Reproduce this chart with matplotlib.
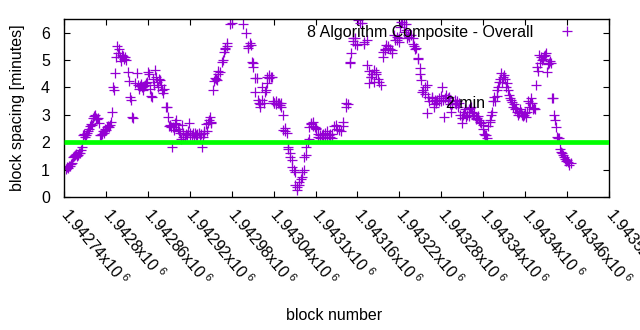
import matplotlib
matplotlib.use("Agg")
import matplotlib.pyplot as plt
import numpy as np

plt.rcParams['font.family'] = ['Liberation Sans', 'DejaVu Sans']
plt.rcParams['mathtext.fontset'] = 'custom'
plt.rcParams['mathtext.rm'] = 'Liberation Sans'
plt.rcParams['mathtext.it'] = 'Liberation Sans'

first_block = 1942740
block_offset = [
    3, 4, 6, 7, 9, 10, 11, 13, 14, 16, 17, 19, 20, 21, 23, 24, 26, 27, 29, 30,
    31, 33, 34, 36, 37, 39, 40, 41, 43, 44, 46, 47, 49, 50, 51, 53, 54, 56, 57, 59,
    60, 61, 63, 64, 66, 67, 69, 70, 71, 73, 74, 76, 77, 79, 80, 81, 83, 84, 86, 87,
    89, 91, 93, 94, 96, 97, 99, 101, 104, 106, 107, 109, 110, 111, 113, 114, 116, 117, 119, 120,
    121, 123, 124, 126, 127, 129, 130, 131, 133, 134, 136, 137, 139, 140, 141, 143, 146, 147, 149, 150,
    151, 153, 154, 156, 157, 159, 160, 161, 163, 164, 166, 167, 169, 170, 171, 173, 174, 176, 177, 179,
    180, 181, 183, 184, 186, 187, 189, 190, 191, 193, 194, 196, 197, 199, 200, 201, 203, 204, 206, 207,
    209, 210, 211, 213, 214, 216, 217, 219, 220, 221, 223, 226, 227, 229, 230, 231, 233, 234, 237, 241,
    256, 261, 263, 264, 266, 267, 269, 270, 271, 273, 274, 276, 277, 279, 280, 281, 283, 284, 286, 287,
    289, 290, 291, 293, 294, 296, 297, 299, 300, 301, 303, 304, 306, 307, 309, 310, 311, 313, 314, 316,
    317, 319, 320, 321, 323, 324, 326, 327, 329, 330, 331, 333, 334, 336, 337, 339, 340, 341, 343, 344,
    346, 347, 349, 350, 351, 353, 354, 356, 357, 359, 360, 361, 363, 364, 366, 367, 369, 370, 371, 373,
    374, 376, 377, 379, 380, 381, 383, 384, 387, 390, 391, 394, 396, 399, 400, 403, 404, 406, 409, 410,
    411, 413, 414, 416, 417, 419, 421, 423, 426, 429, 430, 433, 434, 436, 437, 439, 440, 441, 443, 444,
    446, 447, 449, 451, 453, 456, 457, 459, 460, 461, 463, 464, 466, 469, 470, 473, 474, 476, 477, 479,
    480, 481, 483, 484, 486, 487, 489, 490, 491, 493, 494, 497, 499, 500, 501, 503, 504, 506, 507, 509,
    510, 511, 513, 514, 516, 517, 519, 520, 521, 523, 526, 527, 529, 530, 531, 533, 534, 536, 537, 539,
    540, 541, 543, 544, 546, 547, 549, 550, 551, 553, 554, 556, 559, 560, 561, 563, 564, 566, 567, 569,
    570, 571, 573, 574, 576, 577, 579, 580, 581, 583, 584, 586, 587, 589, 590, 591, 593, 594, 596, 597,
    599, 600, 601, 603, 604, 606, 607, 609, 610, 611, 613, 614, 616, 617, 619, 620, 621, 623, 624, 626,
    627, 629, 630, 631, 633, 634, 636, 637, 639, 640, 641, 643, 644, 646, 647, 649, 650, 651, 653, 654,
    656, 657, 659, 660, 661, 663, 664, 666, 667, 669, 670, 671, 673, 674, 676, 677, 679, 680, 681, 683,
    684, 686, 687, 689, 690, 691, 693, 694, 696, 697, 699, 700, 701, 703, 704, 706, 707, 709, 710, 711,
    713, 714, 716, 717, 719, 720, 721, 723, 726,
]
spacing_minutes = [
    1.02, 1.08, 1.06, 1.12, 1.15, 1.2, 1.24, 1.45, 1.5, 1.54, 1.58, 1.48, 1.55, 1.62, 1.6, 1.7, 1.84, 2.25, 2.3, 2.2,
    2.28, 2.35, 2.4, 2.5, 2.6, 2.65, 2.63, 2.9, 2.95, 3.0, 2.9, 2.85, 2.9, 2.7, 2.27, 2.25, 2.3, 2.4, 2.35, 2.5,
    2.45, 2.56, 2.6, 2.55, 2.63, 2.75, 3.1, 4.0, 3.92, 4.53, 5.1, 5.5, 5.27, 5.4, 5.1, 4.95, 5.2, 5.15, 5.05, 5.13,
    5.0, 4.57, 4.22, 3.66, 3.55, 2.93, 2.88, 4.15, 4.53, 4.1, 3.95, 4.05, 4.12, 4.0, 3.9, 4.05, 4.1, 4.15, 4.2, 4.57,
    4.5, 3.95, 3.7, 3.66, 4.3, 4.1, 4.65, 4.4, 4.2, 4.0, 4.3, 4.28, 4.1, 3.9, 3.8, 3.95, 3.3, 3.3, 2.93, 2.6,
    2.63, 2.55, 1.84, 2.56, 2.45, 2.7, 2.65, 2.82, 2.5, 2.4, 2.34, 2.1, 2.63, 2.35, 2.2, 2.2, 2.3, 2.28, 2.4, 2.7,
    2.35, 2.25, 2.27, 2.35, 2.2, 2.34, 2.25, 2.3, 2.27, 2.32, 2.2, 2.3, 1.84, 2.2, 2.35, 2.4, 2.65, 2.4, 2.7, 2.8,
    2.93, 2.75, 2.7, 3.9, 4.25, 4.35, 4.3, 4.28, 4.5, 4.6, 4.57, 4.94, 5.0, 5.3, 5.45, 5.4, 5.63, 5.5, 6.3, 6.37,
    6.3, 6.0, 5.5, 5.45, 5.63, 5.55, 4.94, 4.9, 4.75, 3.84, 4.35, 4.35, 3.55, 3.45, 3.3, 3.4, 4.0, 3.55, 3.45, 3.84,
    3.9, 4.17, 4.39, 4.35, 4.45, 4.4, 4.39, 3.5, 3.45, 3.44, 3.5, 3.4, 3.44, 3.45, 3.35, 3.45, 3.3, 3.0, 2.45, 2.52,
    2.4, 2.34, 1.84, 1.75, 1.6, 1.45, 1.35, 1.1, 1.0, 0.91, 0.45, 0.26, 0.37, 0.45, 0.55, 0.65, 0.73, 0.91, 1.0, 1.46,
    1.54, 1.84, 2.0, 2.1, 2.56, 2.7, 2.65, 2.74, 2.6, 2.55, 2.5, 2.52, 2.3, 2.2, 2.25, 2.15, 2.27, 2.2, 2.3, 2.15,
    2.35, 2.4, 2.2, 2.25, 2.3, 2.2, 2.16, 2.3, 2.6, 2.63, 2.5, 2.45, 2.4, 2.74, 2.6, 3.3, 3.44, 3.4, 4.94, 4.9,
    5.27, 5.8, 5.7, 5.8, 5.6, 5.56, 6.45, 6.35, 6.37, 5.6, 5.65, 5.74, 4.83, 4.6, 4.17, 4.4, 4.39, 4.5, 4.2, 4.65,
    4.55, 4.5, 4.3, 4.2, 4.1, 5.12, 5.3, 5.4, 5.35, 5.56, 5.5, 5.45, 5.4, 5.27, 5.38, 5.93, 5.75, 5.85, 5.74, 5.8,
    5.67, 6.2, 6.4, 6.4, 6.3, 6.04, 6.3, 6.1, 5.8, 5.9, 5.85, 5.93, 5.8, 5.6, 5.5, 5.4, 5.45, 5.08, 5.05, 4.72,
    4.5, 4.28, 3.84, 3.9, 3.75, 4.0, 4.1, 3.07, 3.66, 3.5, 3.66, 3.6, 3.4, 3.3, 3.55, 3.45, 3.55, 3.5, 3.6, 3.7,
    3.5, 4.03, 3.55, 2.93, 3.6, 3.73, 3.5, 3.6, 3.65, 3.4, 3.11, 3.4, 3.55, 3.45, 3.4, 3.5, 3.3, 3.44, 3.0, 2.9,
    2.7, 3.0, 3.1, 3.2, 2.93, 3.0, 2.95, 3.2, 3.25, 3.3, 3.1, 3.0, 3.07, 2.9, 2.85, 2.9, 2.95, 2.82, 2.75, 2.7,
    2.63, 2.5, 2.3, 2.25, 2.27, 2.16, 2.6, 2.74, 2.8, 3.0, 3.11, 3.5, 3.66, 3.5, 3.7, 3.9, 4.0, 4.2, 4.3, 4.53,
    4.2, 4.4, 4.46, 4.3, 4.0, 4.17, 3.9, 3.73, 3.6, 3.55, 3.48, 3.3, 3.4, 3.2, 3.26, 3.1, 3.0, 3.07, 3.2, 3.1,
    3.0, 2.95, 3.0, 3.05, 2.93, 3.1, 3.5, 3.3, 3.45, 3.6, 3.44, 3.2, 3.26, 3.2, 4.1, 4.76, 4.6, 5.2, 4.9, 5.1,
    5.0, 5.05, 5.15, 5.2, 5.27, 4.57, 4.85, 4.9, 4.95, 4.9, 3.62, 3.6, 3.0, 2.8, 2.56, 2.2, 2.15, 2.16, 1.75, 1.65,
    1.6, 1.55, 1.46, 1.4, 1.3, 1.35, 1.28, 1.17, 1.24,
]
target_minutes = 2.0
series_label = "8 Algorithm Composite - Overall"
target_label = "2 min"
label_block = 1943287
label_value = 3.42

x_tick_values = [1942740, 1942800, 1942860, 1942920, 1942980, 1943040, 1943100,
                 1943160, 1943220, 1943280, 1943340, 1943400, 1943460, 1943520]
x_tick_mantissa = ["1.94274", "1.9428", "1.94286", "1.94292", "1.94298", "1.94304", "1.9431",
                   "1.94316", "1.94322", "1.94328", "1.94334", "1.9434", "1.94346", "1.94352"]
y_tick_values = [0, 1, 2, 3, 4, 5, 6]

blocks = first_block + np.array(block_offset)
vals = np.array(spacing_minutes)

W, H = 640, 330
fig = plt.figure(figsize=(W / 100, H / 100), dpi=100)
ax = fig.add_axes([64 / W, 1 - 197 / H, (609 - 64) / W, (197 - 19) / H])

fs = 11.5
purple = '#9400D3'
ax.plot(blocks, vals, linestyle='none', marker='+', markersize=6.5,
        markeredgewidth=0.9, color=purple, label=series_label, zorder=2)
ax.plot([x_tick_values[0], x_tick_values[-1]], [target_minutes, target_minutes],
        color='#00FF00', linewidth=3.4, solid_capstyle='butt', zorder=3)
ax.text(label_block, label_value, target_label, fontsize=fs, ha='left', va='center', zorder=4)

ax.set_xlim(x_tick_values[0], x_tick_values[-1])
ax.set_ylim(0, 6.5)
ax.set_xticks(x_tick_values)
ax.set_xticklabels([r"$\mathregular{" + m + r"x10^{\ 6}}$" for m in x_tick_mantissa],
                   rotation=-50, ha='left', va='center', rotation_mode='anchor', fontsize=fs)
ax.set_yticks(y_tick_values)
ax.set_yticklabels([str(v) for v in y_tick_values], fontsize=fs)
ax.tick_params(direction='in', length=4.5, width=0.8, top=True, right=True)
ax.tick_params(axis='y', pad=10)
ax.tick_params(axis='x', pad=10)
for s in ax.spines.values():
    s.set_linewidth(1.0)

fig.text(17.5 / W, 1 - 108 / H, "block spacing [minutes]", fontsize=fs,
         rotation=90, ha='center', va='center')
fig.text(334 / W, 1 - 315 / H, "block number", fontsize=fs, ha='center', va='center')

leg = ax.legend(loc='upper right', bbox_to_anchor=(585 / W, 1 - 25 / H),
                bbox_transform=fig.transFigure, frameon=False, markerfirst=False,
                fontsize=fs, handlelength=2.25, handletextpad=1.0,
                borderpad=0, borderaxespad=0)

fig.savefig("out.png", dpi=100)
